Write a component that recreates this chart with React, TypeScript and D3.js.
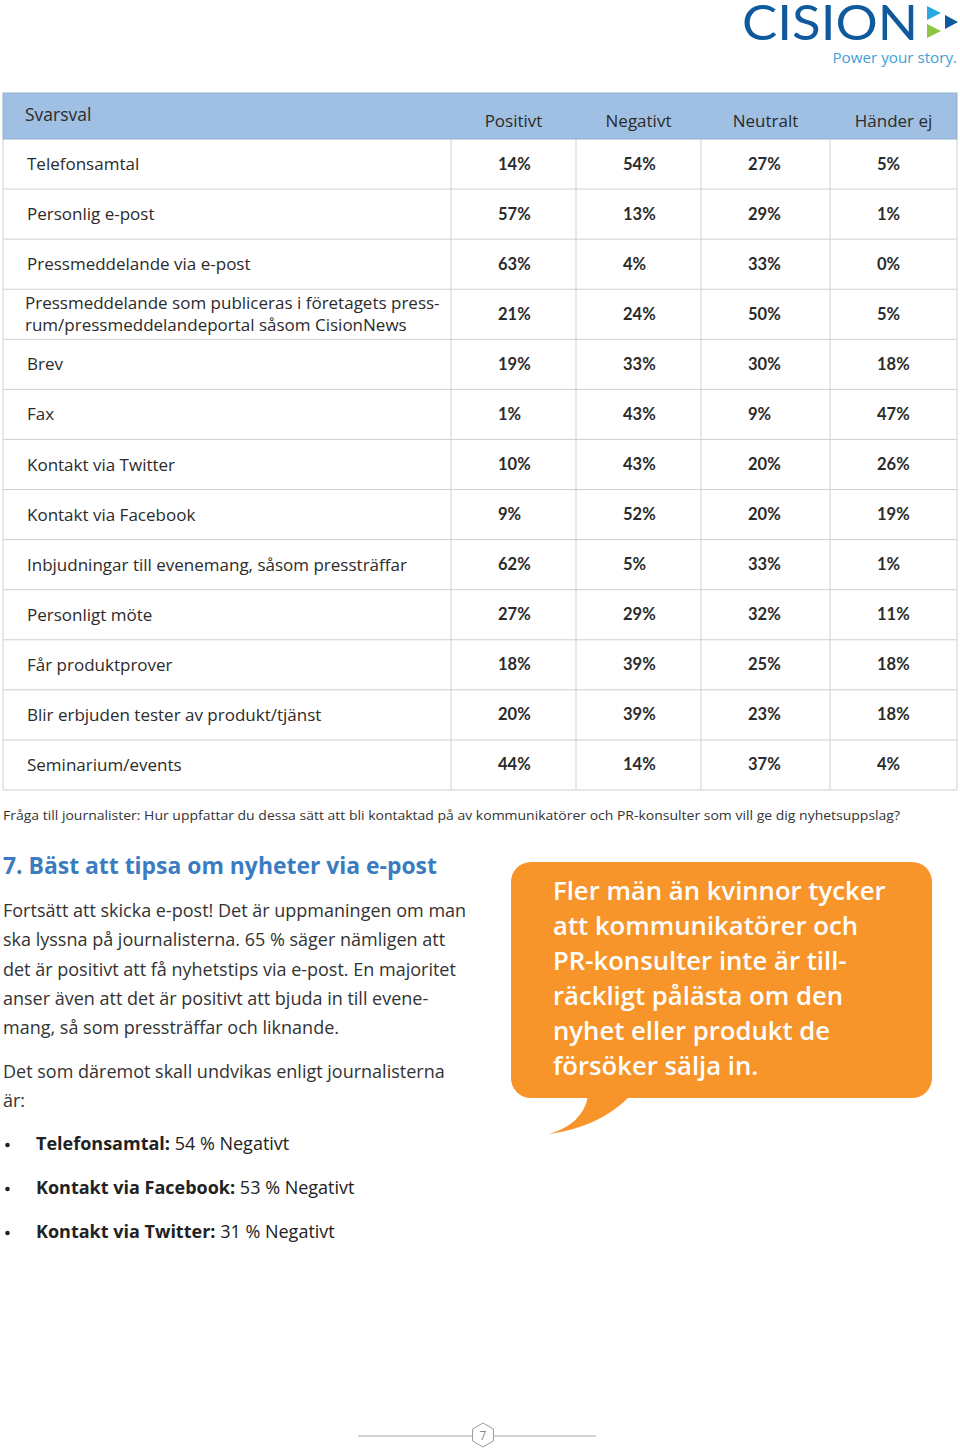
import React from 'react'
import * as d3 from 'd3'

// svarsalternativ (rader)
const categories = [
  'Telefonsamtal',
  'Personlig e-post',
  'Pressmeddelande via e-post',
  'Pressmeddelande som publiceras i företagets press-\nrum/pressmeddelandeportal såsom CisionNews',
  'Brev',
  'Fax',
  'Kontakt via Twitter',
  'Kontakt via Facebook',
  'Inbjudningar till evenemang, såsom pressträffar',
  'Personligt möte',
  'Får produktprover',
  'Blir erbjuden tester av produkt/tjänst',
  'Seminarium/events',
]
const columns = ['Positivt', 'Negativt', 'Neutralt', 'Händer ej']

const positivt = [14, 57, 63, 21, 19, 1, 10, 9, 62, 27, 18, 20, 44]
const negativt = [54, 13, 4, 24, 33, 43, 43, 52, 5, 29, 39, 39, 14]
const neutralt = [27, 29, 33, 50, 30, 9, 20, 20, 33, 32, 25, 23, 37]
const handerEj = [5, 1, 0, 5, 18, 47, 26, 19, 1, 11, 18, 18, 4]
const series = [positivt, negativt, neutralt, handerEj]

const question =
  'Fråga till journalister: Hur uppfattar du dessa sätt att bli kontaktad på av kommunikatörer och PR-konsulter som vill ge dig nyhetsuppslag?'
const heading = '7. Bäst att tipsa om nyheter via e-post'
const paragraph1 = [
  'Fortsätt att skicka e-post! Det är uppmaningen om man',
  'ska lyssna på journalisterna. 65 % säger nämligen att',
  'det är positivt att få nyhetstips via e-post. En majoritet',
  'anser även att det är positivt att bjuda in till evene-',
  'mang, så som pressträffar och liknande.',
]
const paragraph2 = ['Det som däremot skall undvikas enligt journalisterna', 'är:']
const bullets = [
  { label: 'Telefonsamtal:', value: 54 },
  { label: 'Kontakt via Facebook:', value: 53 },
  { label: 'Kontakt via Twitter:', value: 31 },
]
const callout = [
  'Fler män än kvinnor tycker',
  'att kommunikatörer och',
  'PR-konsulter inte är till-',
  'räckligt pålästa om den',
  'nyhet eller produkt de',
  'försöker sälja in.',
]

const W = 960
const H = 1450
const font = '"Open Sans", Lato, sans-serif'
const numFont = 'Lato, sans-serif'
const lineColor = '#cfcfcf'
const textColor = '#2b2b2b'

const tableLeft = 3
const tableRight = 957
const headTop = 93
const headBottom = 139
const tableBottom = 790
const colEdges = [451, 576, 701, 830, 957]

const App = () => {
  const y = d3.scaleBand<string>().domain(categories).range([headBottom, tableBottom])
  const pct = (v: number) => `${v}%`
  const colCenter = (i: number) => (colEdges[i] + colEdges[i + 1]) / 2

  const hex = d3.range(6).map((i) => {
    const a = (Math.PI / 3) * i - Math.PI / 2
    return [483 + 12 * Math.cos(a), 1435 + 12 * Math.sin(a)]
  })
  const bubbleTail = d3.path()
  bubbleTail.moveTo(588, 1096)
  bubbleTail.quadraticCurveTo(583, 1124, 549, 1134)
  bubbleTail.quadraticCurveTo(600, 1127, 630, 1096)
  bubbleTail.closePath()

  return (
    <svg
      width={W}
      height={H}
      style={{ position: 'absolute', left: 0, top: 0, background: '#fff' }}
      fontFamily={font}
    >
      {/* logo */}
      <text x={742} y={40} fontFamily={numFont} fontSize={49} fill="#0f5a9c" textLength={176} lengthAdjust="spacingAndGlyphs">
        CISION
      </text>
      <path d="M927,6 L941,13 L927,20 Z" fill="#2aa9e1" />
      <path d="M927,24 L941,31 L927,38 Z" fill="#8cc63f" />
      <path d="M945,15 L958,22 L945,29 Z" fill="#0f5a9c" />
      <text x={957} y={63} fontSize={15.2} fill="#3d9fd6" textAnchor="end">
        Power your story.
      </text>

      {/* table header */}
      <rect x={tableLeft} y={headTop} width={tableRight - tableLeft} height={headBottom - headTop} fill="#9fc0e2" stroke="#8fb1d6" />
      <text x={25} y={121} fontSize={17.5} fill={textColor}>
        Svarsval
      </text>
      {columns.map((c, i) => (
        <text key={c} x={colCenter(i)} y={127} fontSize={17} fill={textColor} textAnchor="middle">
          {c}
        </text>
      ))}

      {/* rows */}
      {categories.map((cat, r) => {
        const top = y(cat)!
        const mid = top + y.bandwidth() / 2
        const lines = cat.split('\n')
        return (
          <g key={cat}>
            <line x1={tableLeft} x2={tableRight} y1={top + y.bandwidth()} y2={top + y.bandwidth()} stroke={lineColor} />
            {lines.map((l, k) => (
              <text key={k} x={lines.length > 1 ? 25 : 27} y={mid + 6 + (k - (lines.length - 1) / 2) * 22} fontSize={17} fill={textColor}>
                {l}
              </text>
            ))}
            {series.map((s, c) => (
              <text key={c} x={colEdges[c] + 47} y={mid + 5.5} fontFamily={numFont} fontSize={16.5} fontWeight={700} fill={textColor}>
                {pct(s[r])}
              </text>
            ))}
          </g>
        )
      })}
      {colEdges.map((e) => (
        <line key={e} x1={e} x2={e} y1={headBottom} y2={tableBottom} stroke={lineColor} />
      ))}
      <line x1={tableLeft} x2={tableLeft} y1={headBottom} y2={tableBottom} stroke={lineColor} />

      {/* question */}
      <text x={3} y={820} fontSize={13.5} fill="#333" textLength={897} lengthAdjust="spacingAndGlyphs">
        {question}
      </text>

      {/* heading + text */}
      <text x={3} y={874} fontSize={22.9} fontWeight={700} fill="#3b7cc0">
        {heading}
      </text>
      {paragraph1.map((l, i) => (
        <text key={i} x={3} y={917 + i * 29.3} fontSize={18} fill="#333">
          {l}
        </text>
      ))}
      {paragraph2.map((l, i) => (
        <text key={i} x={3} y={1078 + i * 29.3} fontSize={18} fill="#333">
          {l}
        </text>
      ))}
      {bullets.map((b, i) => (
        <g key={b.label}>
          <circle cx={7.5} cy={1145 + i * 44} r={2.3} fill="#222" />
          <text x={36} y={1150 + i * 44} fontSize={18} fill="#222">
            <tspan fontWeight={700}>{b.label}</tspan>
            <tspan> {b.value} % Negativt</tspan>
          </text>
        </g>
      ))}

      {/* speech bubble */}
      <rect x={511} y={862} width={421} height={236} rx={20} fill="#f7952b" />
      <path d={bubbleTail.toString()} fill="#f7952b" />
      {callout.map((l, i) => (
        <text key={i} x={553} y={900 + i * 35} fontSize={25.7} fontWeight={600} fill="#fff">
          {l}
        </text>
      ))}

      {/* page number */}
      <line x1={358} x2={596} y1={1436} y2={1436} stroke="#aaa" />
      <polygon points={hex.map((p) => p.join(',')).join(' ')} fill="#fff" stroke="#999" />
      <text x={483} y={1440} fontSize={12} fill="#888" textAnchor="middle">
        7
      </text>
    </svg>
  )
}

export default App
